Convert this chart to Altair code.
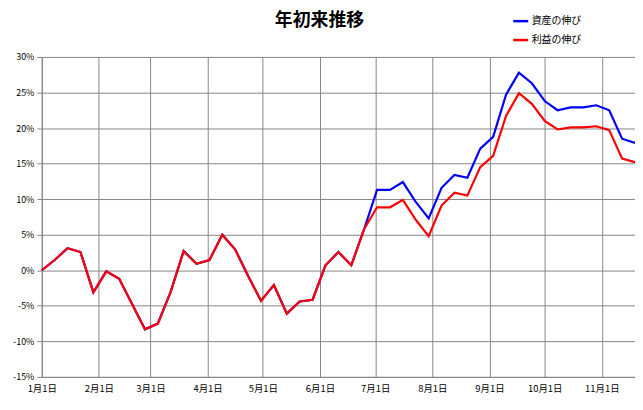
import altair as alt
import pandas as pd

dates = pd.date_range("2015-01-01", periods=47, freq="7D").strftime("%Y-%m-%d").tolist()
asset = [0, 1.44, 3.1, 2.56, -3.1, -0.15, -1.2, -4.75, -8.3, -7.5, -3.0, 2.7, 0.9, 1.44,
         5.0, 2.9, -0.8, -4.3, -2.1, -6.1, -4.4, -4.15, 0.7, 2.56, 0.7, 5.8,
         11.3, 11.3, 12.4, 9.6, 7.3, 11.6, 13.4, 13.0, 17.1, 18.75, 24.7, 27.8, 26.3,
         23.8, 22.5, 22.9, 22.9, 23.2, 22.5, 18.5, 17.9]
profit = [0, 1.44, 3.1, 2.56, -3.1, -0.15, -1.2, -4.75, -8.3, -7.5, -3.0, 2.7, 0.9, 1.44,
          5.0, 2.9, -0.8, -4.3, -2.1, -6.1, -4.4, -4.15, 0.7, 2.56, 0.7, 5.8,
          8.85, 8.85, 9.9, 7.1, 4.8, 9.1, 10.9, 10.5, 14.5, 16.1, 21.7, 24.9, 23.4,
          21.0, 19.8, 20.1, 20.1, 20.25, 19.7, 15.7, 15.2]
series_names = ["資産の伸び", "利益の伸び"]
series_colors = ["#0000FF", "#FF0000"]
month_days = [0, 31, 59, 90, 120, 151, 181, 212, 243, 273, 304]
month_labels = ["1月1日", "2月1日", "3月1日", "4月1日", "5月1日", "6月1日",
                "7月1日", "8月1日", "9月1日", "10月1日", "11月1日"]
y_ticks = [-0.15, -0.10, -0.05, 0, 0.05, 0.10, 0.15, 0.20, 0.25, 0.30]

d = pd.to_datetime(dates)
day = (d - pd.Timestamp("2015-01-01")).days
rows = []
for name, vals in zip(series_names, [asset, profit]):
    for dd, v in zip(day, vals):
        rows.append({"day": int(dd), "value": v / 100.0, "series": name})
df = pd.DataFrame(rows)

font = "Noto Sans CJK JP"
label_expr = "[" + ",".join("'%s'" % s for s in month_labels) + "][indexof([" + \
    ",".join(str(x) for x in month_days) + "], datum.value)]"

color = alt.Color("series:N",
                  scale=alt.Scale(domain=series_names, range=series_colors),
                  legend=alt.Legend(title=None, orient="none", legendX=473, legendY=-45,
                                    symbolType="stroke", symbolSize=225, symbolStrokeWidth=2.5,
                                    labelFont=font, labelFontSize=10, labelColor="#000",
                                    rowPadding=5, labelOffset=2, padding=0))

x = alt.X("day:Q", scale=alt.Scale(domain=[0, max(day)], nice=False, zero=False),
          axis=alt.Axis(values=month_days, labelExpr=label_expr, title=None,
                        grid=True, gridColor="#868686", ticks=False, domainColor="#868686",
                        labelFont=font, labelFontSize=9.5, labelColor="#000", labelPadding=7,
                        labelFlush=False))
y = alt.Y("value:Q", scale=alt.Scale(domain=[-0.15, 0.30], nice=False),
          axis=alt.Axis(values=y_ticks,
                        labelExpr="replace(format(datum.value, '.0%'), '\u2212', '-')",
                        title=None, grid=True, gridColor="#868686", tickColor="#868686",
                        tickSize=5, domainColor="#868686", labelFont=font, labelFontSize=9,
                        labelColor="#000", labelPadding=3))

base = alt.Chart(df).mark_line(strokeWidth=2.2)
blue = base.transform_filter(alt.datum.series == series_names[0]).encode(x=x, y=y, color=color)
red = base.transform_filter(alt.datum.series == series_names[1]).encode(x=x, y=y, color=color)

chart = alt.layer(blue, red).properties(
    width=597, height=322,
    title=alt.TitleParams("年初来推移", font=font, fontSize=18, fontWeight="bold",
                          anchor="middle", frame="group", dx=-19, offset=-36,
                          baseline="bottom", color="#000"),
    autosize=alt.AutoSizeParams(type="none"),
    padding={"left": 34, "top": 48, "right": 0, "bottom": 20},
).configure_view(stroke=None).configure(background="white")

chart.save("out.html", embed_options={"renderer": "svg", "actions": False})
